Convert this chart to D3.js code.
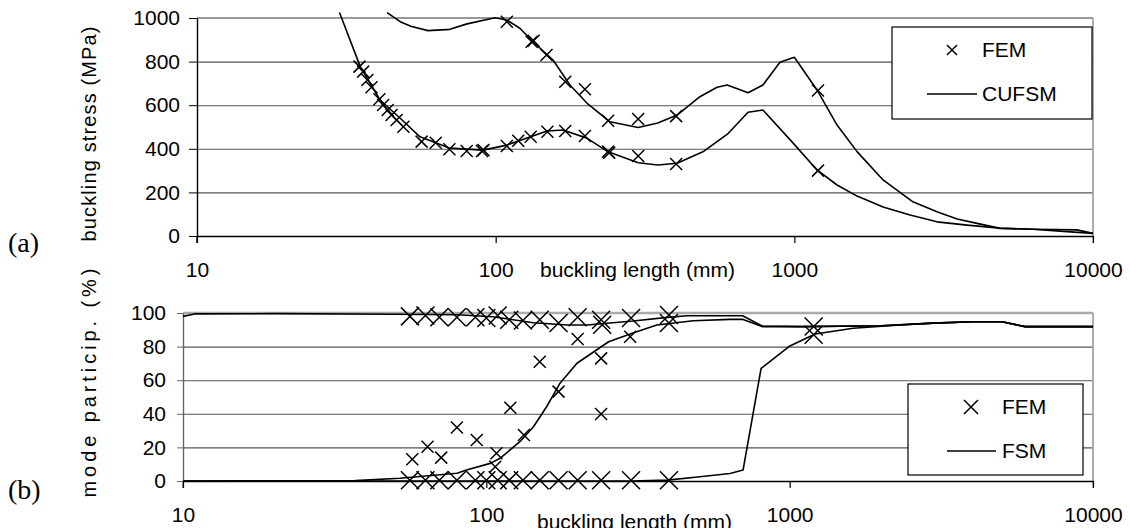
<!DOCTYPE html>
<html>
<head>
<meta charset="utf-8">
<script src="https://cdn.jsdelivr.net/npm/d3@7"></script>
<style>
  html, body { margin: 0; padding: 0; background: #fff; }
  svg { display: block; }
  text { font-family: "Liberation Sans", Arial, sans-serif; fill: #000; }
</style>
</head>
<body>
<svg id="chart" width="1130" height="528"></svg>
<script>
// ---- (a) buckling stress vs buckling length ----
const lowerCurveLen = [30, 35.2, 41, 47.9, 55.8, 70.3, 90.8, 109, 148.6, 168, 202, 238, 300, 349, 405, 494, 600, 700, 785, 991, 1191, 1390, 1622, 1982, 2440, 3003, 3785, 4886, 6300, 8180, 10000];
const lowerCurveStress = [1025, 777, 624, 540, 455, 403, 394, 417, 482, 486, 449, 386, 336, 326, 334, 386, 470, 568, 578, 426, 303, 234, 183, 133, 96, 65, 50, 36, 31, 20, 12];

const upperCurveLen = [43.3, 47.9, 52, 59.3, 70.3, 80.2, 99.5, 109, 120.5, 133.4, 155.6, 177.3, 202, 241.4, 300, 349, 405, 483, 551, 596, 700, 785, 895, 1000, 1191, 1390, 1622, 1982, 2495, 3003, 3509, 4090, 4886, 6300, 8830, 10000];
const upperCurveStress = [1025, 983, 962, 942, 948, 973, 1001, 991, 953, 891, 807, 693, 610, 524, 498, 518, 555, 639, 682, 693, 657, 693, 797, 820, 670, 509, 387, 257, 157, 111, 78, 58, 35, 31, 28, 12];

const femLowerLen = [35, 36, 37.2, 38.4, 40.8, 42, 43.5, 44.8, 46.6, 49.1, 56.5, 63, 70, 80, 90, 91, 109, 119, 131, 149, 171, 199, 238, 240, 300, 402, 1200];
const femLowerStress = [777, 754, 716, 682, 627, 601, 578, 555, 532, 501, 433, 428, 398, 390, 390, 394, 413, 437, 455, 478, 482, 459, 387, 382, 367, 330, 300];

const femUpperLen = [109, 132, 134, 148, 171, 199, 238, 300, 402, 1200];
const femUpperStress = [983, 891, 896, 830, 708, 673, 529, 537, 550, 667];

// ---- (b) mode participation vs buckling length ----
const fsmALen = [10, 11, 20, 50, 80, 105, 143, 185, 215, 250, 305, 395, 459, 700, 811, 1100, 2000, 2972, 4018, 5012, 5970, 10000];
const fsmAPart = [98, 99.5, 99.6, 99.3, 99.0, 97.8, 94.2, 92.9, 92.9, 93.9, 95.2, 97.4, 98.4, 98.4, 92.3, 91.9, 92.4, 94.0, 94.8, 94.8, 91.9, 91.9];

const fsmBLen = [10, 37, 52, 80, 86, 103, 111, 129, 143, 158, 175, 199, 253, 306, 365, 481, 636, 702, 811, 1100, 2000, 2972, 4018, 5012, 5970, 10000];
const fsmBPart = [0, 0.2, 1.6, 4.6, 6.5, 10.5, 13.5, 23.4, 32.3, 44.2, 58.2, 70.1, 82.9, 88.3, 92.9, 95.4, 96.2, 96.2, 91.9, 91.9, 92.4, 94.0, 94.8, 94.8, 91.9, 91.9];

const fsmCLen = [10, 300, 395, 506, 636, 702, 805, 1002, 1213, 1619, 2311, 2972, 4018, 5012, 5970, 10000];
const fsmCPart = [0, 0, 0.5, 2.5, 4.5, 6.5, 67, 80.4, 87.5, 90.9, 92.9, 94.0, 94.8, 94.8, 91.9, 91.9];

const femHighLen = [56, 63, 70, 80, 92, 100, 109, 119, 132, 150, 173, 200, 239, 241, 300, 400, 400, 1200, 1200];
const femHighPart = [98, 98.5, 97.5, 97.5, 97.5, 97, 98.5, 96, 95.5, 96, 94, 97.5, 96, 93, 97, 98.8, 94, 92, 87];

const femLowLen = [56, 63, 70, 80, 92, 100, 109, 119, 132, 150, 173, 200, 239, 300, 400];
const femLowPart = [0.5, 0.5, 0.5, 0.5, 0.5, 0.5, 0.5, 0.5, 0.5, 0.5, 0.5, 0.5, 0.5, 0.5, 0.5];

const femMidLen = [57, 64, 71, 80, 93, 108, 107, 120, 133, 150, 173, 200, 239, 239, 298];
const femMidPart = [12.9, 20.4, 13.9, 31.9, 24.4, 16.5, 8.5, 43.6, 27.4, 71, 53.2, 84.5, 73, 39.9, 85.9];

const stressTicks = [0, 200, 400, 600, 800, 1000];
const partTicks = [0, 20, 40, 60, 80, 100];
const lengthTicks = [10, 100, 1000, 10000];
const xTitle = "buckling length (mm)";

const zip = (xs, ys) => xs.map((x, i) => [x, ys[i]]);
const intFmt = d3.format("d");

const svg = d3.select("#chart");
svg.append("rect").attr("width", 1130).attr("height", 528).attr("fill", "#fff");

function crossPath(s) {
  return `M${-s},${-s}L${s},${s}M${-s},${s}L${s},${-s}`;
}

function panel(cfg) {
  const x = d3.scaleLog().domain([10, 10000]).range([cfg.left, 1093]);
  const y = d3.scaleLinear().domain(cfg.yDomain).range([cfg.bottom, cfg.top]);
  const g = svg.append("g");

  // horizontal gridlines
  g.append("g")
    .attr("transform", `translate(${cfg.left},0)`)
    .call(d3.axisLeft(y).tickValues(cfg.yTicks.slice(1, -1)).tickSize(-(1093 - cfg.left)).tickFormat(""))
    .call(a => a.select(".domain").remove())
    .call(a => a.selectAll("line").attr("stroke", "#555").attr("stroke-width", 1.1));

  // top frame line and right frame line
  g.append("line").attr("x1", cfg.left).attr("x2", 1093).attr("y1", y(cfg.yDomain[1])).attr("y2", y(cfg.yDomain[1]))
    .attr("stroke", cfg.frameColor).attr("stroke-width", cfg.frameWidth);
  g.append("line").attr("x1", 1093).attr("x2", 1093).attr("y1", y(cfg.yDomain[1])).attr("y2", cfg.bottom + 7)
    .attr("stroke", "#999").attr("stroke-width", 1.6);

  // y axis
  g.append("g")
    .attr("transform", `translate(${cfg.left},0)`)
    .call(d3.axisLeft(y).tickValues(cfg.yTicks).tickFormat(intFmt).tickSizeInner(cfg.yTickLen).tickSizeOuter(0).tickPadding(cfg.yPad))
    .call(a => a.select(".domain").attr("stroke", cfg.yAxisColor).attr("stroke-width", 1.4))
    .call(a => a.selectAll(".tick line").attr("stroke", cfg.yAxisColor))
    .call(a => a.selectAll("text").style("font-size", "21px").style("font-family", "Liberation Sans, Arial, sans-serif"));
  g.append("line").attr("x1", cfg.left).attr("x2", cfg.left).attr("y1", cfg.bottom).attr("y2", cfg.bottom + 7)
    .attr("stroke", cfg.yAxisColor).attr("stroke-width", 1.4);

  // x axis
  g.append("g")
    .attr("transform", `translate(0,${cfg.bottom})`)
    .call(d3.axisBottom(x).tickValues(lengthTicks).tickFormat(intFmt).tickSizeInner(7).tickSizeOuter(0).tickPadding(19))
    .call(a => a.select(".domain").attr("stroke", "#000").attr("stroke-width", 1.4))
    .call(a => a.selectAll(".tick line").attr("stroke", "#000").attr("stroke-width", 1.2))
    .call(a => a.selectAll("text").style("font-size", "21px").style("font-family", "Liberation Sans, Arial, sans-serif"));

  g.append("text").attr("x", cfg.titleX).attr("y", cfg.titleY).style("font-size", "21px").text(xTitle);

  // y axis title
  g.append("text")
    .attr("transform", `translate(96,${cfg.yTitleMid}) rotate(-90)`)
    .attr("text-anchor", "middle")
    .attr("textLength", cfg.yTitleLen).attr("lengthAdjust", "spacing")
    .style("font-size", "20px")
    .text(cfg.yTitle);

  // panel tag
  g.append("text").attr("x", cfg.tagX).attr("y", cfg.tagY)
    .style("font-family", "Liberation Serif, 'Times New Roman', serif").style("font-size", "28px")
    .text(cfg.tag);

  const line = d3.line().x(d => x(d[0])).y(d => y(d[1]));
  cfg.lines.forEach(pts => {
    g.append("path").attr("d", line(pts)).attr("fill", "none").attr("stroke", "#000").attr("stroke-width", 1.6)
      .attr("stroke-linejoin", "round");
  });
  cfg.marks.forEach(set => {
    g.append("g").selectAll("path").data(set.pts).join("path")
      .attr("transform", d => `translate(${x(d[0])},${y(d[1])})`)
      .attr("d", crossPath(set.size)).attr("stroke", "#000").attr("stroke-width", 1.5).attr("fill", "none");
  });

  // legend
  const L = cfg.legend;
  g.append("rect").attr("x", L.x).attr("y", L.y).attr("width", L.w).attr("height", L.h)
    .attr("fill", "#fff").attr("stroke", "#000").attr("stroke-width", 1.2);
  g.append("path").attr("transform", `translate(${L.markX},${L.markY})`).attr("d", crossPath(L.markSize))
    .attr("stroke", "#000").attr("stroke-width", 1.5);
  g.append("text").attr("x", L.textX).attr("y", L.markY + 7).style("font-size", "21px").text("FEM");
  g.append("line").attr("x1", L.lineX1).attr("x2", L.lineX2).attr("y1", L.lineY).attr("y2", L.lineY)
    .attr("stroke", "#000").attr("stroke-width", 1.5);
  g.append("text").attr("x", L.textX).attr("y", L.lineY + 7).style("font-size", "21px").text(L.lineName);
}

panel({
  left: 197, top: 18, bottom: 236, yDomain: [0, 1000], yTicks: stressTicks,
  yTickLen: 8, yPad: 9, yAxisColor: "#000", frameColor: "#777", frameWidth: 1.4,
  titleX: 540, titleY: 277, yTitle: "buckling stress  (MPa)", yTitleMid: 134, yTitleLen: 215,
  tag: "(a)", tagX: 8, tagY: 252,
  lines: [zip(lowerCurveLen, lowerCurveStress), zip(upperCurveLen, upperCurveStress)],
  marks: [{ pts: zip(femLowerLen, femLowerStress), size: 6 }, { pts: zip(femUpperLen, femUpperStress), size: 6 }],
  legend: { x: 892, y: 27, w: 200, h: 92, markX: 952, markY: 50, markSize: 5, textX: 982,
            lineX1: 927, lineX2: 977, lineY: 94, lineName: "CUFSM" }
});

panel({
  left: 183, top: 313, bottom: 481, yDomain: [0, 100], yTicks: partTicks,
  yTickLen: 6, yPad: 11, yAxisColor: "#666", frameColor: "#aaa", frameWidth: 2.5,
  titleX: 537, titleY: 529, yTitle: "mode particip.  (%)", yTitleMid: 383, yTitleLen: 229,
  tag: "(b)", tagX: 8, tagY: 499,
  lines: [zip(fsmALen, fsmAPart), zip(fsmBLen, fsmBPart), zip(fsmCLen, fsmCPart)],
  marks: [{ pts: zip(femHighLen, femHighPart), size: 9 }, { pts: zip(femLowLen, femLowPart), size: 9 },
          { pts: zip(femMidLen, femMidPart), size: 6 }],
  legend: { x: 908, y: 384, w: 175, h: 91, markX: 971, markY: 407, markSize: 7, textX: 1002,
            lineX1: 947, lineX2: 996, lineY: 451, lineName: "FSM" }
});
</script>
</body>
</html>
